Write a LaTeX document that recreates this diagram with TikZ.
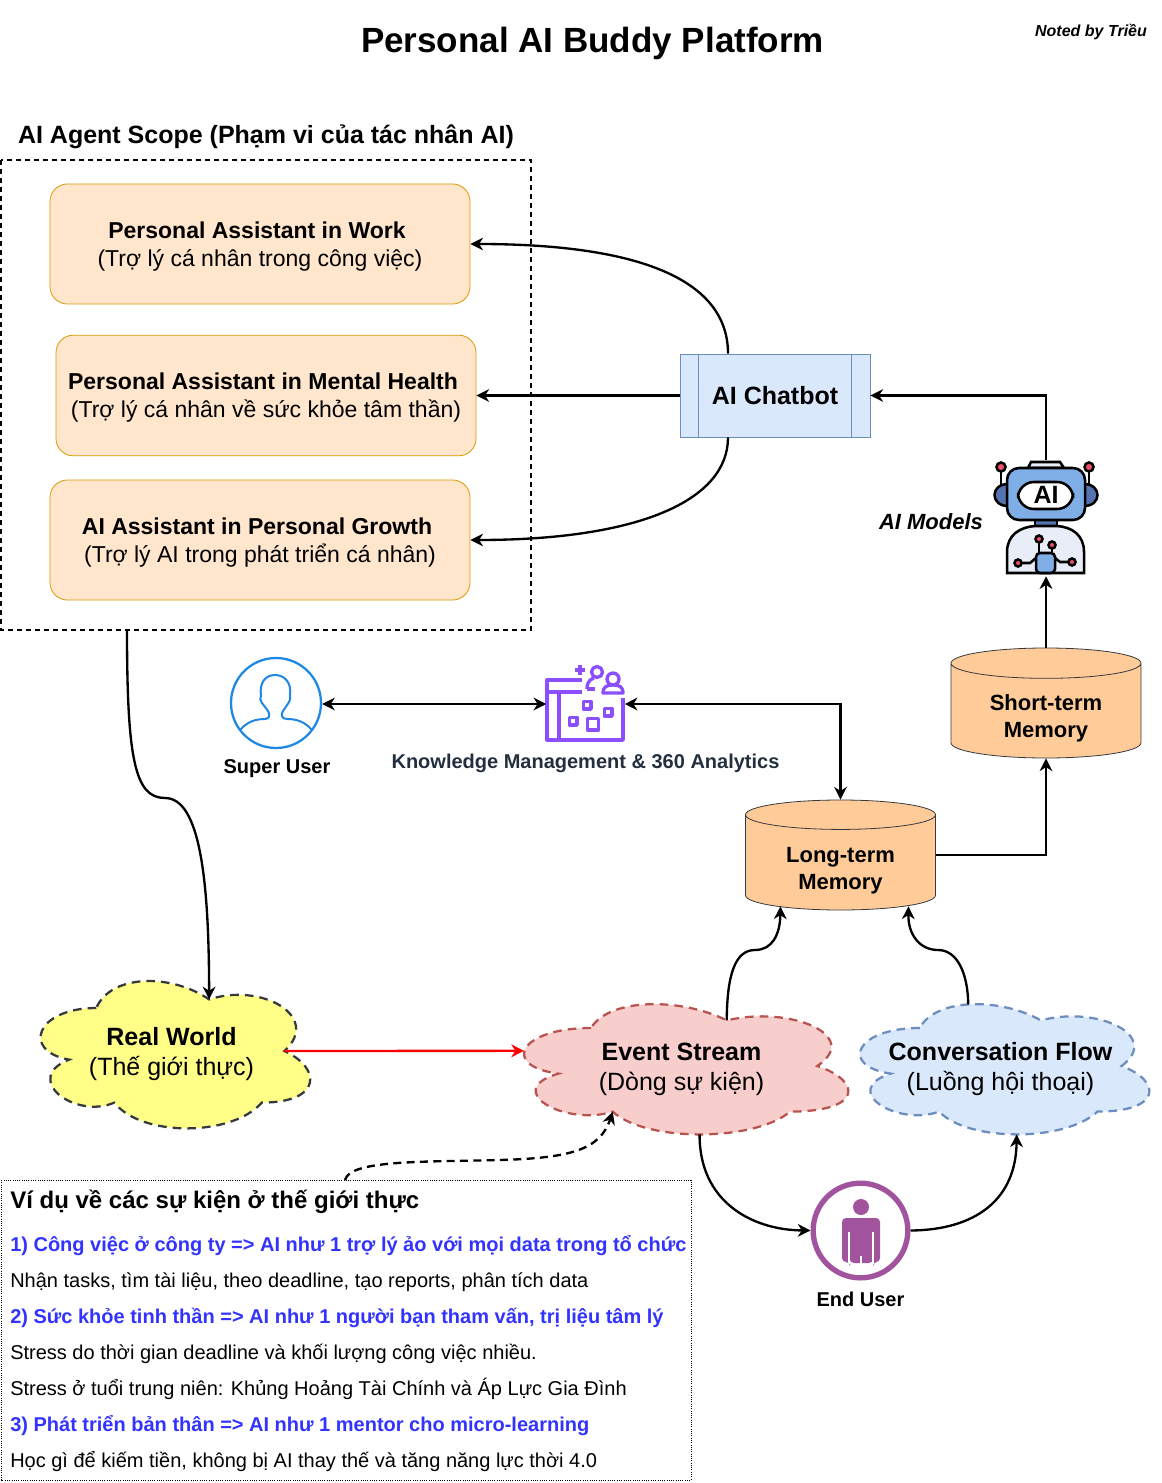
\documentclass[tikz,border=0pt]{standalone}
\usepackage{fontspec}
\setmainfont{Liberation Sans}
\usepackage{tikz}
\usetikzlibrary{shapes,shapes.geometric,arrows,arrows.meta}
\definecolor{orangefill}{HTML}{FFE6CC}
\definecolor{orangeline}{HTML}{D79B00}
\definecolor{bluefill}{HTML}{DAE8FC}
\definecolor{blueline}{HTML}{6C8EBF}
\definecolor{redfill}{HTML}{F8CECC}
\definecolor{redline}{HTML}{B85450}
\definecolor{yellowfill}{HTML}{FFFF88}
\definecolor{darkline}{HTML}{36393D}
\definecolor{cylfill}{HTML}{FFCC99}
\definecolor{kmpurple}{HTML}{8C4FFF}
\definecolor{kmtext}{HTML}{232F3E}
\definecolor{userblue}{HTML}{1E88E5}
\definecolor{userpurple}{HTML}{A2539E}
\definecolor{linkblue}{HTML}{3333FF}
\definecolor{robotblue}{HTML}{7FAEE6}
\definecolor{robotdark}{HTML}{5573B0}
\definecolor{robotpale}{HTML}{E8EDF8}
\definecolor{robotred}{HTML}{F0506E}
\tikzstyle{link} = [draw, line width=1.75pt, >={Stealth[length=9.5pt,width=9.5pt,inset=3pt]}, ->]
\tikzstyle{assistant} = [draw=orangeline, fill=orangefill, rounded corners=13pt, minimum width=315pt, align=center, font=\fontsize{17.25pt}{21pt}\selectfont, line width=0.6pt]
\tikzstyle{memory} = [draw=darkline, fill=cylfill, cylinder, shape border rotate=90, aspect=0.25, minimum width=142.5pt, minimum height=82.5pt, align=center, font=\fontsize{16.5pt}{20pt}\selectfont\bfseries, line width=0.6pt, anchor=shape center]
\tikzstyle{cloudline} = [line width=1.7pt, dash pattern=on 6.5pt off 4.5pt]
\tikzstyle{cloudtext} = [align=center, font=\fontsize{18.75pt}{22.5pt}\selectfont]
\tikzstyle{caption} = [font=\fontsize{15pt}{18pt}\selectfont\bfseries]
\tikzstyle{listline} = [anchor=west, inner sep=0pt, font=\fontsize{15pt}{18pt}\selectfont]
\tikzstyle{listhead} = [listline, text=linkblue, font=\fontsize{15pt}{18pt}\selectfont\bfseries]
\tikzstyle{roboline} = [draw=black, line width=1.9pt]
\tikzstyle{kmline} = [draw=kmpurple, line width=2.5pt, line join=round]

% pushes a two line label down inside its node
\newcommand{\lowerlabel}[1]{\rule{0pt}{#1}}

% name, x, y, w, h, fill, stroke, text
\newcommand{\buddycloud}[8]{
  \begin{scope}[shift={(#2,#3)}, x=0.75*#4 pt, y=-0.75*#5 pt]
    \draw [cloudline, fill=#6, draw=#7] (0.25,0.25) .. controls (0.05,0.25) and (0,0.5) .. (0.16,0.55)
      .. controls (0,0.66) and (0.18,0.9) .. (0.31,0.8)
      .. controls (0.4,1) and (0.7,1) .. (0.8,0.8)
      .. controls (1,0.8) and (1,0.6) .. (0.875,0.5)
      .. controls (1,0.3) and (0.8,0.1) .. (0.625,0.2)
      .. controls (0.5,0.05) and (0.3,0.05) .. (0.25,0.25) -- cycle;
    \node [cloudtext] (#1) at (0.5,0.5) {\lowerlabel{18pt}#8};
    \coordinate (#1 tip) at (0.625,0.2);
    \coordinate (#1 top) at (0.4,0.095);
    \coordinate (#1 east) at (0.875,0.5);
    \coordinate (#1 west) at (0.065,0.4);
    \coordinate (#1 notch) at (0.31,0.8);
    \coordinate (#1 bottom) at (0.55,0.95);
  \end{scope}
}

\begin{document}
\begin{tikzpicture}[x=0.75pt, y=-0.75pt]
  \useasboundingbox (0,0) rectangle (1162,1483);

  % titles
  \node [font=\fontsize{26.25pt}{32pt}\selectfont\bfseries] (title) at (592.5,43.5) {Personal AI Buddy Platform};
  \node [font=\fontsize{12pt}{14pt}\selectfont\bfseries\itshape] (noted) at (1091,32) {Noted by Triều};
  \node [font=\fontsize{18.75pt}{22pt}\selectfont\bfseries] (scopetitle) at (266,137) {AI Agent Scope (Phạm vi của tác nhân AI)};

  % scope with the three assistants
  \draw [line width=1.1pt, dash pattern=on 3.75pt off 3pt] (1,160) rectangle (531,630);
  \coordinate (scopeexit) at (127,630);
  \node [assistant, minimum height=90pt] (work) at (260,244) {\lowerlabel{16.5pt}\textbf{Personal Assistant in Work}\hspace*{4.5pt}\\(Trợ lý cá nhân trong công việc)};
  \node [assistant, minimum height=90.5pt] (health) at (266,395.5) {\lowerlabel{15pt}\textbf{Personal Assistant in Mental Health}\hspace*{4.5pt}\\(Trợ lý cá nhân về sức khỏe tâm thần)};
  \node [assistant, minimum height=90pt] (growth) at (260,540) {\lowerlabel{16.5pt}\textbf{AI Assistant in Personal Growth}\hspace*{4.5pt}\\(Trợ lý AI trong phát triển cá nhân)};

  % chatbot
  \node [draw=blueline, fill=bluefill, line width=0.6pt, minimum width=142.5pt, minimum height=62.25pt, font=\fontsize{18.75pt}{22pt}\selectfont\bfseries] (chatbot) at (775,395.5) {AI Chatbot};
  \draw [blueline, line width=0.6pt] ([xshift=14.25pt]chatbot.north west) -- ([xshift=14.25pt]chatbot.south west);
  \draw [blueline, line width=0.6pt] ([xshift=-14.25pt]chatbot.north east) -- ([xshift=-14.25pt]chatbot.south east);

  % robot
  \node [minimum width=79pt, minimum height=87pt, inner sep=0pt] (models) at (1046,518) {};
  \node [font=\fontsize{16.5pt}{18pt}\selectfont\bfseries\itshape] (modelslabel) at (931,522) {AI Models};
  \draw [roboline, fill=robotpale] (1028,468) -- (1031,462) -- (1060,462) -- (1064,468) -- cycle;
  \draw [roboline] (1001,470) -- (1001,486);
  \draw [roboline] (1089,470) -- (1089,486);
  \draw [roboline, fill=robotred] (1001,467) circle (4.5);
  \draw [roboline, fill=robotred] (1089,467) circle (4.5);
  \draw [roboline, fill=robotdark] (1008,484) .. controls (990,484) and (990,506) .. (1008,506) -- cycle;
  \draw [roboline, fill=robotdark] (1084,484) .. controls (1102,484) and (1102,506) .. (1084,506) -- cycle;
  \draw [roboline, fill=robotdark] (1035,518) rectangle (1057,528);
  \draw [roboline, fill=robotpale] (1007,573) -- (1007,552) .. controls (1007,535) and (1020,527) .. (1035,526) -- (1057,526) .. controls (1072,527) and (1084,535) .. (1084,552) -- (1084,573) -- cycle;
  \draw [roboline, fill=robotblue, rounded corners=9pt] (1007,468) rectangle (1085,520);
  \draw [roboline, fill=white, rounded corners=12pt] (1018,482) rectangle (1073,509);
  \node [inner sep=0pt, font=\fontsize{18.75pt}{20pt}\selectfont\bfseries] (robotai) at (1046,495) {AI};
  \draw [roboline, fill=robotblue, rounded corners=3pt] (1036,573) -- (1036,553) -- (1055,553) -- (1055,573) -- cycle;
  \draw [roboline] (1039,543) -- (1039,553);
  \draw [roboline] (1052,549) -- (1052,553);
  \draw [roboline] (1022,563) -- (1030,563) -- (1036,558);
  \draw [roboline] (1068,562) -- (1060,562) -- (1055,558);
  \foreach \px/\py in {1039/539, 1052/545, 1018/563, 1072/562}
    \draw [roboline, fill=robotred] (\px,\py) circle (3.5);

  % memories
  \node [memory] (shortterm) at (1046,703) {\lowerlabel{20pt}Short-term\\Memory};
  \node [memory] (longterm) at (840.5,855) {\lowerlabel{20pt}Long-term\\Memory};

  % super user
  \node [circle, draw=userblue, line width=1.7pt, minimum size=67.5pt, inner sep=0pt] (superuser) at (276,703) {};
  \draw [userblue, line width=1.5pt] (240,730) .. controls (247,722) and (255,719) .. (265,719)
    .. controls (270,719) and (270,714) .. (268,711) .. controls (264,705) and (258,700) .. (261,696)
    .. controls (259,682) and (266,675) .. (275,675) .. controls (284,675) and (292,682) .. (290,696)
    .. controls (292,700) and (286,706) .. (283,711) .. controls (281,714) and (281,719) .. (287,719)
    .. controls (297,719) and (305,722) .. (312,730);
  \node [caption] (superlabel) at (277,769) {Super User};

  % knowledge management icon
  \node [minimum width=58.5pt, minimum height=60pt, inner sep=0pt] (kmicon) at (585.5,704) {};
  \draw [kmline] (582,680) -- (547,680) -- (547,740) -- (623,740) -- (623,698);
  \draw [kmline] (547,692) -- (582,692);
  \draw [kmline] (559,692) -- (559,740);
  \draw [kmline] (575,670) -- (585,670);
  \draw [kmline] (580,665) -- (580,675);
  \draw [kmline] (597,672) circle (5.5);
  \draw [kmline] (587,689) .. controls (587,680) and (592,679) .. (594,678);
  \draw [kmline] (587,689) -- (595,689);
  \draw [kmline] (613,679) circle (6);
  \draw [kmline] (603,693) .. controls (603,686) and (608,685) .. (613,685) .. controls (618,685) and (623,686) .. (623,693) -- cycle;
  \draw [kmline] (583.5,701.5) rectangle (591,709);
  \draw [kmline] (604.5,708.5) rectangle (612,716);
  \draw [kmline] (569.5,717.5) rectangle (577,725);
  \draw [kmline] (587.5,718.5) rectangle (598.5,730);
  \node [caption, text=kmtext] (kmlabel) at (585.5,763) {Knowledge Management \& 360 Analytics};

  % clouds
  \buddycloud{realworld}{21}{965}{301}{172}{yellowfill}{darkline}{\textbf{Real World}\\(Thế giới thực)}
  \buddycloud{eventstream}{500.5}{990}{362}{152}{redfill}{redline}{\textbf{Event Stream}\\(Dòng sự kiện)}
  \buddycloud{conversation}{839}{990}{323}{152}{bluefill}{blueline}{\textbf{Conversation Flow}\\(Luồng hội thoại)}

  % end user
  \node [circle, draw=userpurple, line width=4pt, minimum size=71pt, inner sep=0pt] (enduser) at (860.5,1230.5) {};
  \fill [userpurple] (861,1207) circle (8);
  \fill [userpurple, rounded corners=3pt] (842,1262) -- (842,1218) -- (880,1218) -- (880,1262) -- (873,1262) -- (873,1263) -- (850,1263) -- (850,1262) -- cycle;
  \draw [white, line width=0.8pt] (849,1232) -- (849,1264);
  \draw [white, line width=0.8pt] (873,1232) -- (873,1264);
  \draw [white, line width=0.8pt] (861,1256) -- (861,1264);
  \node [caption] (endlabel) at (860.5,1299) {End User};

  % examples
  \draw [line width=0.7pt, densely dotted] (1,1180) rectangle (691,1480);
  \coordinate (examplestop) at (345,1180);
  \node [listline, font=\fontsize{18pt}{20pt}\selectfont\bfseries] (examples) at (10,1202) {Ví dụ về các sự kiện ở thế giới thực};
  \node [listhead] (ex1) at (10,1246) {1) Công việc ở công ty => AI như 1 trợ lý ảo với mọi data trong tổ chức};
  \node [listline] (ex1a) at (10,1282) {Nhận tasks, tìm tài liệu, theo deadline, tạo reports, phân tích data};
  \node [listhead] (ex2) at (10,1318) {2) Sức khỏe tinh thần => AI như 1 người bạn tham vấn, trị liệu tâm lý};
  \node [listline] (ex2a) at (10,1354) {Stress do thời gian deadline và khối lượng công việc nhiều.};
  \node [listline] (ex2b) at (10,1389) {Stress ở tuổi trung niên: Khủng Hoảng Tài Chính và Áp Lực Gia Đình};
  \node [listhead] (ex3) at (10,1426) {3) Phát triển bản thân => AI như 1 mentor cho micro-learning};
  \node [listline] (ex3a) at (10,1461) {Học gì để kiếm tiền, không bị AI thay thế và tăng năng lực thời 4.0};

  % connectors
  \draw [link] ([xshift=-35.25pt]chatbot.north) .. controls (728,280) and (640,244) .. (work.east);
  \draw [link] (chatbot.west) -- (health.east);
  \draw [link] ([xshift=-35.25pt]chatbot.south) .. controls (728,500) and (640,540) .. (growth.east);
  \draw [link] (models.north) |- (chatbot.east);
  \draw [link] (shortterm.north) -- (models.south);
  \draw [link] ([yshift=7.5pt]longterm.east) -| (shortterm.south);
  \draw [link, <->] (superuser.east |- kmicon.west) -- (kmicon.west);
  \draw [link, <->] (kmicon.east) -| (longterm.north);
  \draw [link] (scopeexit) .. controls (127,760) and (135,798) .. (165,798) .. controls (200,798) and (209,880) .. (realworld tip);
  \draw [link, red] (realworld east) -- (eventstream west);
  \draw [link] (eventstream tip) .. controls (727,975) and (735,950) .. (755,950) .. controls (772,950) and (780,935) .. ([xshift=-45pt,yshift=3pt]longterm.south);
  \draw [link] (conversation top) .. controls (968,975) and (958,950) .. (938,950) .. controls (920,950) and (908,935) .. ([xshift=51pt,yshift=3pt]longterm.south);
  \draw [link] (eventstream bottom) .. controls (699,1200) and (750,1230) .. (enduser.west);
  \draw [link] (enduser.east) .. controls (975,1230) and (1016,1200) .. (conversation bottom);
  \draw [link, dash pattern=on 6pt off 4pt] (examplestop) .. controls (350,1160) and (420,1162) .. (500,1160) .. controls (570,1158) and (600,1150) .. (eventstream notch);
\end{tikzpicture}
\end{document}
